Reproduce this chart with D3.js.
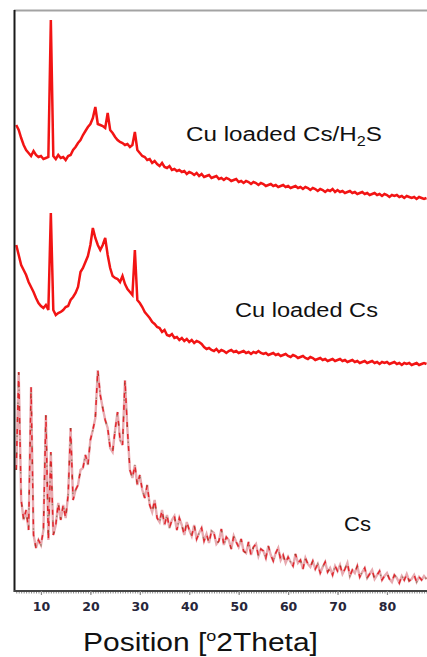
<!DOCTYPE html>
<html><head><meta charset="utf-8">
<script src="https://cdn.jsdelivr.net/npm/d3@7"></script>
<style>html,body{margin:0;padding:0;background:#fff;overflow:hidden}</style>
</head><body>
<svg id="chart" width="427" height="657"></svg>
<script>
// ---- data (intensity, arbitrary units, stacked as in the figure) ----
const seriesNames = ["Cu loaded Cs/H2S", "Cu loaded Cs", "Cs"];
const angleStart = 5, angleStep = 0.5;   // 2Theta scan grid, 5..88
const cuH2S = [
  466,461,453,446,441,438,435,440,436,434,
  435,432,433,434,571,435,432,436,433,434,
  431,435,436,441,444,448,451,456,460,464,
  467,473,484,467,466,465,463,478,461,458,
  454,451,449,448,446,447,444,446,459,441,
  438,435,434,431,432,428,430,427,425,428,
  424,423,425,421,422,420,421,419,420,417,
  419,418,416,418,415,417,414,415,416,413,
  414,415,412,413,411,413,412,410,411,412,
  409,410,408,410,409,407,409,408,406,408,
  407,405,406,407,405,406,404,405,406,404,
  405,403,404,405,403,404,402,404,403,401,
  403,402,400,402,401,399,401,400,402,399,
  401,399,400,398,399,400,398,399,397,398,
  399,397,398,396,397,398,396,397,395,397,
  396,394,396,395,396,394,395,393,395,394,
  393,394,392,394,393,392,393
];
const cuCs = [
  346,336,326,321,316,309,304,299,293,288,
  285,283,286,281,378,281,276,278,279,281,
  284,285,291,294,298,304,319,323,329,335,
  346,363,353,346,341,346,353,336,323,315,
  313,312,309,315,307,302,299,296,341,291,
  288,284,279,276,273,269,267,264,263,259,
  261,256,255,257,253,254,251,253,250,252,
  249,251,248,250,249,247,244,242,243,241,
  240,242,239,241,240,238,240,241,239,240,
  238,239,240,238,239,237,239,238,240,238,
  237,238,236,237,238,236,237,235,236,237,
  235,234,236,235,233,234,235,233,232,234,
  233,231,232,233,231,232,230,231,232,230,
  231,232,230,231,229,230,231,229,230,228,
  229,230,228,229,230,228,229,227,229,228,
  229,227,228,229,227,228,226,228,227,228,
  226,227,228,226,227,228,227
];
const cs = [
  121,219,91,71,81,61,204,56,43,51,
  46,61,176,51,139,56,66,88,71,86,
  73,96,163,91,101,106,121,123,136,126,
  151,161,173,221,196,183,171,163,143,139,
  161,179,151,146,211,161,121,113,126,106,
  116,101,93,106,86,79,91,73,69,81,
  66,76,63,71,75,61,73,66,56,69,
  61,55,66,52,58,63,50,57,48,60,
  58,47,50,62,46,54,51,42,55,49,
  44,52,40,38,49,36,44,47,35,42,
  40,33,45,36,30,38,43,31,36,28,
  34,29,25,37,28,31,22,33,27,24,
  30,22,27,18,24,29,19,23,16,25,
  20,26,17,22,28,15,21,18,25,14,
  19,23,13,17,21,12,16,20,11,15,
  18,12,9,16,13,8,15,11,17,10,
  12,16,9,14,11,15,12
];
const tickValues = [10, 20, 30, 40, 50, 60, 70, 80];
const tickLabels = ["10", "20", "30", "40", "50", "60", "70", "80"];
const xTitle = "Position [";
const xTitleDeg = "o";
const xTitleEnd = "2Theta]";

// ---- drawing ----
const svg = d3.select("#chart");
const W = 427;
const x = d3.scaleLinear().domain([4.75, 88.1]).range([15, W]);
const y = d3.scaleLinear().domain([0, 580]).range([591, 11]);
const angleOf = i => angleStart + i * angleStep;

svg.append("defs").append("clipPath").attr("id", "plotclip")
  .append("rect").attr("x", 15).attr("y", 11).attr("width", W - 15).attr("height", 580);

const line = d3.line().x((d, i) => x(angleOf(i))).y(d => y(d)).curve(d3.curveLinear);

const g = svg.append("g").attr("clip-path", "url(#plotclip)");

// Cs trace: mixed pink / red / dark rendering
g.append("path").datum(cs).attr("d", line)
  .attr("fill", "none").attr("stroke", "#e8aab0").attr("stroke-width", 2.4)
  .attr("stroke-linejoin", "miter");
g.append("path").datum(cs).attr("d", line)
  .attr("fill", "none").attr("stroke", "#e0262c").attr("stroke-width", 1.5)
  .attr("stroke-dasharray", "5,7");
g.append("path").datum(cs).attr("d", line)
  .attr("fill", "none").attr("stroke", "#5f5a2e").attr("stroke-width", 1.4)
  .attr("stroke-dasharray", "1.5,15").attr("opacity", 0.55);

[cuCs, cuH2S].forEach(s => {
  g.append("path").datum(s).attr("d", line)
    .attr("fill", "none").attr("stroke", "#f21414").attr("stroke-width", 2.5)
    .attr("stroke-linejoin", "miter");
});

// frame
svg.append("line").attr("x1", 14).attr("x2", W).attr("y1", 10.5).attr("y2", 10.5)
  .attr("stroke", "#a3a3a3").attr("stroke-width", 2);
svg.append("line").attr("x1", 14.5).attr("x2", 14.5).attr("y1", 10).attr("y2", 592)
  .attr("stroke", "#1a1a1a").attr("stroke-width", 2);

// minor ticks
const minor = svg.append("g").attr("transform", "translate(0,591)")
  .call(d3.axisBottom(x).tickValues(d3.range(5, 88.01, 0.5)).tickSize(2.5).tickFormat(""));
minor.select(".domain").remove();
minor.selectAll(".tick line").attr("stroke", "#8a8a8a").attr("stroke-width", 1);

// major axis
const ax = svg.append("g").attr("transform", "translate(0,591)")
  .call(d3.axisBottom(x).tickValues(tickValues).tickSize(4).tickPadding(7)
    .tickFormat((d, i) => tickLabels[i]));
ax.select(".domain").attr("stroke", "#444").attr("stroke-width", 2)
  .attr("d", `M14,0H${W}`);
ax.selectAll(".tick line").attr("stroke", "#888").attr("stroke-width", 1.2);
ax.selectAll(".tick text").attr("fill", "#27263a")
  .style("font-family", "'DejaVu Sans', Verdana, sans-serif")
  .style("font-weight", "bold").style("font-size", "12.5px");

// helper to place and stretch text to a target width
function placeText(t, x0, y0, targetW) {
  const w = t.node().getComputedTextLength();
  t.attr("transform", `translate(${x0},${y0}) scale(${targetW / w},1)`);
}
const font = "'Liberation Sans', Arial, sans-serif";

// series labels
const l1 = svg.append("text").attr("x", 0).attr("y", 0)
  .style("font-family", font).style("font-size", "21px").attr("fill", "#111");
l1.append("tspan").text(seriesNames[0].slice(0, 14));
l1.append("tspan").text(seriesNames[0].slice(14, 15)).style("font-size", "14px").attr("dy", 5);
l1.append("tspan").text(seriesNames[0].slice(15)).attr("dy", -5);
placeText(l1, 186, 141, 196);

const l2 = svg.append("text").attr("x", 0).attr("y", 0)
  .style("font-family", font).style("font-size", "21px").attr("fill", "#111")
  .text(seriesNames[1]);
placeText(l2, 235, 317, 143);

const l3 = svg.append("text").attr("x", 0).attr("y", 0)
  .style("font-family", font).style("font-size", "21px").attr("fill", "#111")
  .text(seriesNames[2]);
placeText(l3, 344, 531, 27);

// axis title
const tt = svg.append("text").attr("x", 0).attr("y", 0)
  .style("font-family", font).style("font-size", "25px").attr("fill", "#111");
tt.append("tspan").text(xTitle);
tt.append("tspan").text(xTitleDeg).style("font-size", "15px").attr("dy", -10);
tt.append("tspan").text(xTitleEnd).attr("dy", 10);
placeText(tt, 83, 651, 235);
</script>
</body></html>
